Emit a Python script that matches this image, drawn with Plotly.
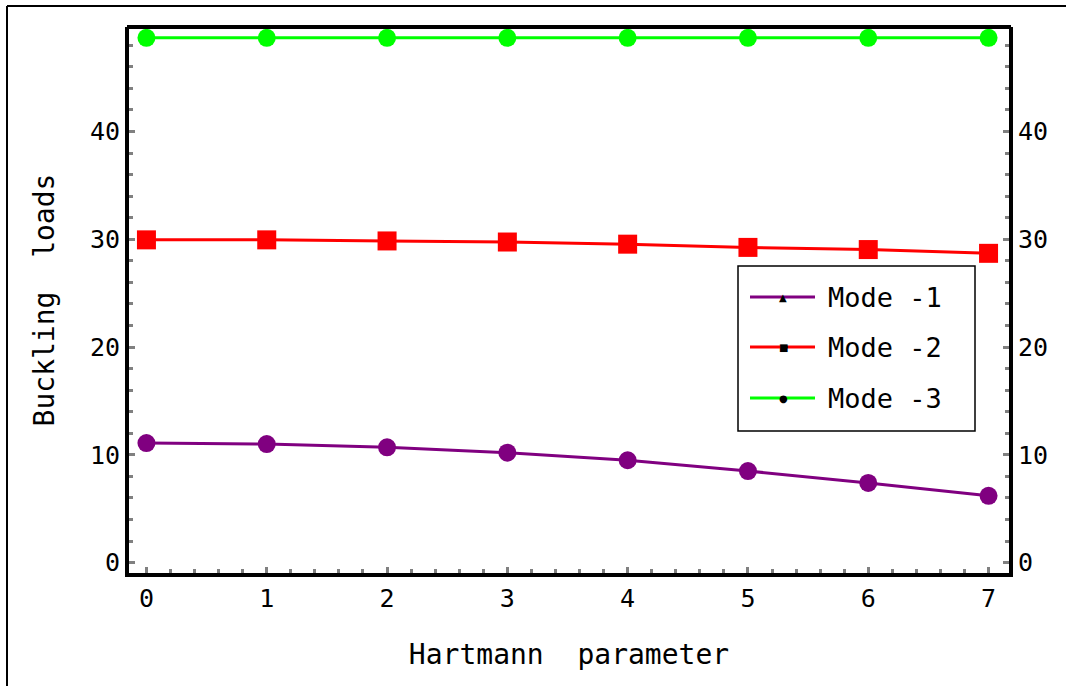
import plotly.graph_objects as go

hartmann = [0, 1, 2, 3, 4, 5, 6, 7]
mode1 = [11.1, 11.0, 10.7, 10.2, 9.5, 8.5, 7.4, 6.2]
mode2 = [29.95, 29.95, 29.85, 29.75, 29.55, 29.25, 29.05, 28.7]
mode3 = [48.7, 48.7, 48.7, 48.7, 48.7, 48.7, 48.7, 48.7]
series_names = ["Mode -1", "Mode -2", "Mode -3"]
series_colors = ["#800080", "#FF0000", "#00FF00"]
series_symbols = ["circle", "square", "circle"]
legend_symbols = ["triangle-up", "square", "circle"]
x_title = "Hartmann  parameter"
y_title = "Buckling  loads"

FONT = "DejaVu Sans Mono"

fig = go.Figure()
for vals, name, col, sym in zip([mode1, mode2, mode3], series_names, series_colors, series_symbols):
    fig.add_trace(go.Scatter(
        x=hartmann, y=vals, mode="lines+markers", name=name,
        line=dict(color=col, width=3),
        marker=dict(symbol=sym, size=18 if sym == "circle" else 19, color=col),
        showlegend=False,
    ))

# manual legend (paper coords)
L = 129; R = 1009; T = 27; B = 573
def px(x): return (x - L) / (R - L)
def py(y): return (B - y) / (B - T)

shapes = []
annotations = []
shapes.append(dict(type="rect", xref="paper", yref="paper",
                   x0=px(738), x1=px(975), y0=py(431), y1=py(266),
                   line=dict(color="black", width=1.5), fillcolor="white", layer="above"))
rows = [297, 347, 398]
for i, (name, col, lsym) in enumerate(zip(series_names, series_colors, legend_symbols)):
    yy = py(rows[i])
    shapes.append(dict(type="line", xref="paper", yref="paper",
                       x0=px(750), x1=px(815), y0=yy, y1=yy,
                       line=dict(color=col, width=3), layer="above"))
    annotations.append(dict(xref="paper", yref="paper", x=px(826), y=yy,
                            text=name, showarrow=False, xanchor="left", yanchor="middle",
                            font=dict(family=FONT, size=27, color="black")))
    annotations.append(dict(xref="paper", yref="paper", x=px(783), y=yy,
                            text={"triangle-up": "▲", "square": "■", "circle": "●"}[lsym],
                            showarrow=False, xanchor="center", yanchor="middle",
                            font=dict(family="DejaVu Sans", size=10, color="black")))

# top frame line (no ticks on top)
shapes.append(dict(type="line", xref="paper", yref="paper",
                   x0=px(127), x1=px(1011), y0=1, y1=1, line=dict(color="black", width=4)))
# outer border (left and top)
shapes.append(dict(type="line", xref="paper", yref="paper",
                   x0=px(7), x1=px(7), y0=py(6), y1=py(700), line=dict(color="black", width=2)))
shapes.append(dict(type="line", xref="paper", yref="paper",
                   x0=px(7), x1=px(1080), y0=py(6), y1=py(6), line=dict(color="black", width=2)))

axis_common = dict(
    showgrid=False, zeroline=False, showline=True, linecolor="black", linewidth=4,
    ticks="inside", tickcolor="#808080", tickwidth=3, ticklen=6,
    tickfont=dict(family=FONT, size=25, color="black"),
)

fig.update_layout(
    width=1066, height=686,
    margin=dict(l=L, r=1066 - R, t=T, b=686 - B),
    paper_bgcolor="white", plot_bgcolor="white",
    showlegend=False,
    xaxis=dict(range=[-0.145, 7.17], dtick=1, tick0=0, mirror=False,
               minor=dict(dtick=0.2, ticks="inside", ticklen=4, tickwidth=3, tickcolor="#808080"),
               title=dict(text=x_title, font=dict(family=FONT, size=28, color="black"), standoff=33),
               **axis_common),
    yaxis=dict(range=[-0.96, 49.7], dtick=10, tick0=0, mirror=False,
               minor=dict(dtick=2, ticks="inside", ticklen=4, tickwidth=3, tickcolor="#808080"),
               title=dict(text=y_title, font=dict(family=FONT, size=28, color="black"), standoff=28),
               **axis_common),
    yaxis2=dict(range=[-0.96, 49.7], dtick=10, tick0=0, overlaying="y", side="right",
                minor=dict(dtick=2, ticks="inside", ticklen=4, tickwidth=3, tickcolor="#808080"),
                **axis_common),
    shapes=shapes, annotations=annotations,
)
fig.add_trace(go.Scatter(x=[None], y=[None], yaxis="y2", showlegend=False, hoverinfo="skip"))

fig.write_html("out.html")
